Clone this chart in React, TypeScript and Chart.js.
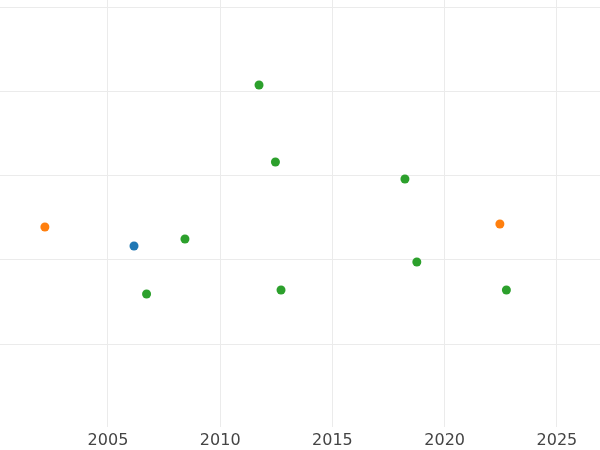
import React, { useEffect, useRef } from "react";
import { Chart, registerables } from "chart.js";

Chart.register(...registerables);

const blueX = [2006.16];
const blueY = [2.167];
const orangeX = [2002.19, 2022.46];
const orangeY = [2.393, 2.429];
const greenX = [2011.73, 2012.46, 2018.23, 2008.43, 2018.76, 2006.72, 2012.71, 2022.75];
const greenY = [4.083, 3.167, 2.964, 2.25, 1.976, 1.595, 1.643, 1.643];

const xMin = 2000.19;
const xMax = 2026.92;
const yMin = 0.012;
const yMax = 5.095;

function pts(xs: number[], ys: number[]) {
  return xs.map((x, i) => ({ x, y: ys[i] }));
}

export default function App() {
  const ref = useRef<HTMLCanvasElement | null>(null);
  useEffect(() => {
    document.body.style.margin = "0";
    const ctx = ref.current!;
    const mk = (label: string, xs: number[], ys: number[], color: string) => ({
      label,
      data: pts(xs, ys),
      backgroundColor: color,
      borderColor: color,
      pointRadius: 4.5,
      pointBorderWidth: 0,
    });
    const chart = new Chart(ctx, {
      type: "scatter",
      data: {
        datasets: [
          mk("a", blueX, blueY, "#1f77b4"),
          mk("b", orangeX, orangeY, "#ff7f0e"),
          mk("c", greenX, greenY, "#2ca02c"),
        ],
      },
      options: {
        animation: false,
        responsive: false,
        layout: { padding: 0, autoPadding: false },
        plugins: { legend: { display: false }, tooltip: { enabled: false } },
        scales: {
          x: {
            type: "linear",
            min: xMin,
            max: xMax,
            border: { display: false },
            grid: { color: "#ebebeb", lineWidth: 1, drawTicks: false },
            afterFit: (s: any) => {
              s.height = 23;
            },
            ticks: {
              stepSize: 5,
              includeBounds: false,
              padding: 4,
              color: "#444444",
              font: { family: "DejaVu Sans", size: 16 },
              maxRotation: 0,
              autoSkip: false,
              callback: (v: any) => String(v),
            },
          },
          y: {
            type: "linear",
            min: yMin,
            max: yMax,
            border: { display: false },
            grid: { color: "#ebebeb", lineWidth: 1, drawTicks: false },
            ticks: { display: false, stepSize: 1, includeBounds: false },
          },
        },
      },
    });
    return () => chart.destroy();
  }, []);
  return (
    <div style={{ width: 600, height: 450 }}>
      <canvas ref={ref} width={600} height={450} style={{ display: "block" }} />
    </div>
  );
}
